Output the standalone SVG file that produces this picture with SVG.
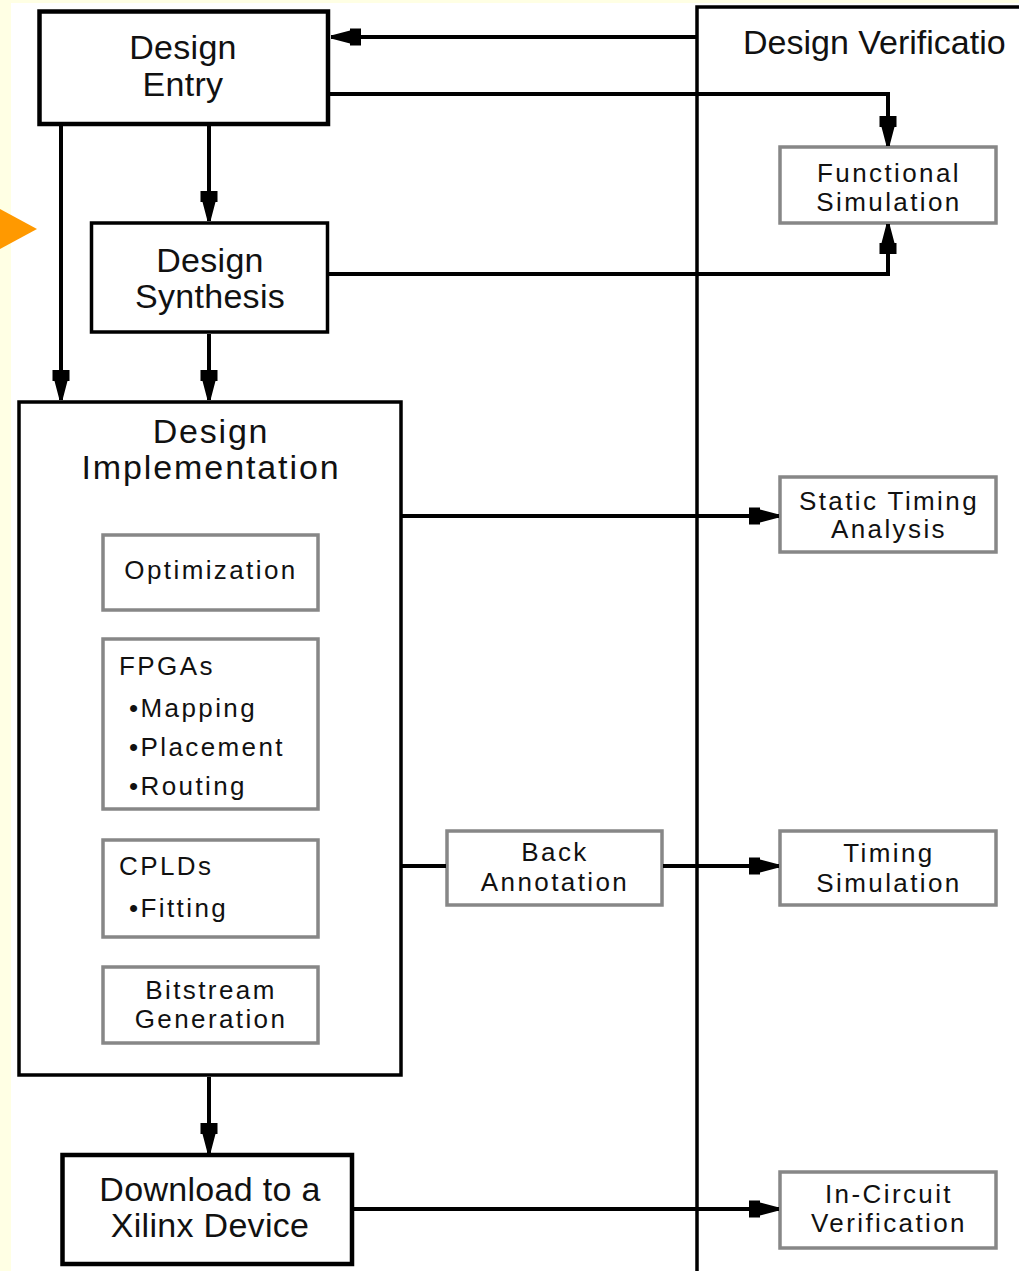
<svg xmlns="http://www.w3.org/2000/svg" width="1019" height="1271" viewBox="0 0 1019 1271">
  <style>
    .main { fill: #fff; stroke: #000; stroke-width: 4.5; }
    .mid { fill: #fff; stroke: #000; stroke-width: 3.5; }
    .sub { fill: #fff; stroke: #878787; stroke-width: 3.5; }
    .big { font-family: "Liberation Sans", Arial, sans-serif; font-size: 34px; fill: #111; text-anchor: middle; letter-spacing: 0.3px; }
    .small { font-family: "Liberation Sans", Arial, sans-serif; font-size: 26px; fill: #111; letter-spacing: 2.4px; text-anchor: middle; }
    .left { text-anchor: start; }
    .wire { fill: none; stroke: #000; stroke-width: 4; }
  </style>
  <defs>
    <marker id="arrow" markerUnits="userSpaceOnUse" viewBox="-31 -10 32 20" markerWidth="32" markerHeight="20" refX="0" refY="0" orient="auto">
      <path d="M-30,-8.5 L-19,-8.5 L-19,-6.5 L0,-1.5 L0,1.5 L-19,6.5 L-19,8.5 L-30,8.5 Z" fill="#000"/>
    </marker>
  </defs>

  <!-- page background -->
  <rect x="0" y="0" width="1019" height="1271" fill="#ffffe4"/>
  <rect x="11" y="3" width="1008" height="1268" fill="#fff"/>
  <polygon points="0,209 37,229 0,249" fill="#ff9900"/>

  <!-- verification column -->
  <g id="design-verification">
    <path d="M697,1271 L697,7 L1019,7" fill="none" stroke="#000" stroke-width="3.5"/>
    <text class="big" x="743" y="54" style="text-anchor:start; letter-spacing:0">Design Verificatio</text>
  </g>

  <g id="design-entry">
    <rect class="main" x="39.5" y="11.5" width="288.5" height="112.5"/>
    <text class="big" x="183" y="59">Design</text>
    <text class="big" x="183" y="96">Entry</text>
  </g>

  <g id="design-synthesis">
    <rect class="mid" x="91.5" y="223" width="236" height="109"/>
    <text class="big" x="210" y="272">Design</text>
    <text class="big" x="210" y="308">Synthesis</text>
  </g>

  <g id="design-implementation">
    <rect class="mid" x="19" y="402" width="382" height="673"/>
    <text class="big" x="211" y="443" style="letter-spacing:1.8px">Design</text>
    <text class="big" x="211" y="479" style="letter-spacing:1.9px">Implementation</text>
  </g>

  <g id="optimization">
    <rect class="sub" x="103" y="535" width="215" height="75"/>
    <text class="small" x="211" y="579">Optimization</text>
  </g>

  <g id="fpgas">
    <rect class="sub" x="103" y="639" width="215" height="170"/>
    <text class="small left" x="119" y="675">FPGAs</text>
    <text class="small left" x="129" y="717">•Mapping</text>
    <text class="small left" x="129" y="756">•Placement</text>
    <text class="small left" x="129" y="795">•Routing</text>
  </g>

  <g id="cplds">
    <rect class="sub" x="103" y="840" width="215" height="97"/>
    <text class="small left" x="119" y="875">CPLDs</text>
    <text class="small left" x="129" y="917">•Fitting</text>
  </g>

  <g id="bitstream-generation">
    <rect class="sub" x="103" y="967" width="215" height="76"/>
    <text class="small" x="211" y="999">Bitstream</text>
    <text class="small" x="211" y="1028">Generation</text>
  </g>

  <g id="download">
    <rect class="main" x="62.5" y="1155" width="289.5" height="109"/>
    <text class="big" x="210" y="1201">Download to a</text>
    <text class="big" x="210" y="1237">Xilinx Device</text>
  </g>

  <g id="functional-simulation">
    <rect class="sub" x="780" y="147" width="216" height="76"/>
    <text class="small" x="889" y="182">Functional</text>
    <text class="small" x="889" y="211">Simulation</text>
  </g>

  <g id="static-timing-analysis">
    <rect class="sub" x="780" y="477" width="216" height="75"/>
    <text class="small" x="889" y="510">Static Timing</text>
    <text class="small" x="889" y="538">Analysis</text>
  </g>

  <g id="back-annotation">
    <rect class="sub" x="447" y="831" width="215" height="74"/>
    <text class="small" x="555" y="861">Back</text>
    <text class="small" x="555" y="891">Annotation</text>
  </g>

  <g id="timing-simulation">
    <rect class="sub" x="780" y="831" width="216" height="74"/>
    <text class="small" x="889" y="862">Timing</text>
    <text class="small" x="889" y="892">Simulation</text>
  </g>

  <g id="in-circuit-verification">
    <rect class="sub" x="780" y="1172" width="216" height="76"/>
    <text class="small" x="889" y="1203">In-Circuit</text>
    <text class="small" x="889" y="1232">Verification</text>
  </g>

  <!-- connectors -->
  <g id="connectors">
    <path class="wire" d="M697,37 L331,37" marker-end="url(#arrow)"/>
    <path class="wire" d="M330,94 L888,94 L888,146" stroke-width="3.5" marker-end="url(#arrow)"/>
    <path class="wire" d="M329,274 L888,274 L888,224" stroke-width="3.5" marker-end="url(#arrow)"/>
    <path class="wire" d="M209,126 L209,221" stroke-width="3.5" marker-end="url(#arrow)"/>
    <path class="wire" d="M61,126 L61,400" marker-end="url(#arrow)"/>
    <path class="wire" d="M209,334 L209,400" stroke-width="3.5" marker-end="url(#arrow)"/>
    <path class="wire" d="M402,516 L779,516" stroke-width="3.5" marker-end="url(#arrow)"/>
    <path class="wire" d="M402,866 L446,866" stroke-width="3.5"/>
    <path class="wire" d="M663,866 L779,866" stroke-width="3.5" marker-end="url(#arrow)"/>
    <path class="wire" d="M209,1077 L209,1153" stroke-width="3.5" marker-end="url(#arrow)"/>
    <path class="wire" d="M354,1209 L779,1209" stroke-width="4.5" marker-end="url(#arrow)"/>
  </g>
</svg>
